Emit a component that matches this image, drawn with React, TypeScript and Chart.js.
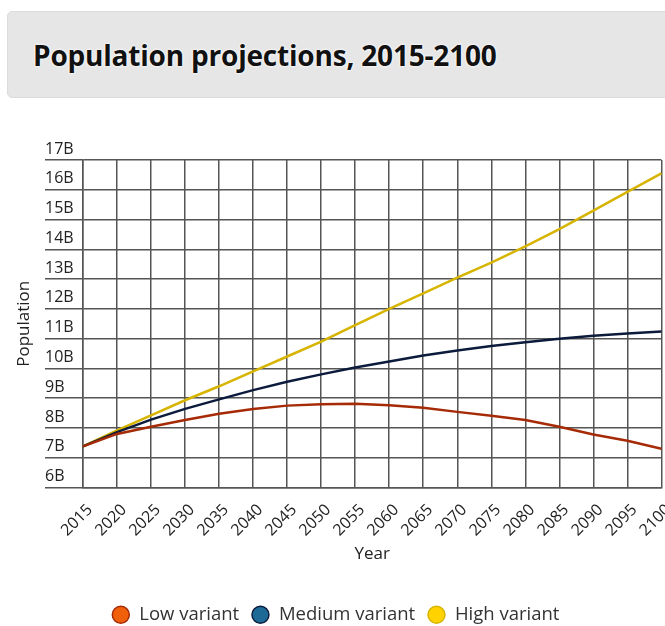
import React, { useEffect, useRef } from "react";
import { Chart, registerables } from "chart.js";

Chart.register(...registerables);

const years = ["2015", "2020", "2025", "2030", "2035", "2040", "2045", "2050", "2055", "2060", "2065", "2070", "2075", "2080", "2085", "2090", "2095", "2100"];
const lowVariant = [7.38, 7.8, 8.04, 8.27, 8.48, 8.64, 8.75, 8.8, 8.81, 8.76, 8.68, 8.54, 8.41, 8.27, 8.04, 7.78, 7.57, 7.3];
const mediumVariant = [7.38, 7.86, 8.28, 8.64, 8.96, 9.27, 9.55, 9.8, 10.03, 10.23, 10.43, 10.6, 10.75, 10.88, 11.0, 11.1, 11.17, 11.24];
const highVariant = [7.38, 7.92, 8.42, 8.93, 9.4, 9.9, 10.4, 10.9, 11.45, 12.0, 12.52, 13.05, 13.55, 14.1, 14.68, 15.3, 15.93, 16.55];
const seriesNames = ["Low variant", "Medium variant", "High variant"];
const yMin = 6;
const yMax = 17;

const FONT = "'Open Sans', 'Noto Sans', sans-serif";
const W = 688;
const H = 508;

export default function App() {
  const ref = useRef<HTMLCanvasElement>(null);

  useEffect(() => {
    if (!ref.current) return;
    const chart = new Chart(ref.current, {
      type: "line",
      data: {
        labels: years,
        datasets: [
          { label: seriesNames[0], data: lowVariant, borderColor: "#a52a05", backgroundColor: "#f0600a", borderWidth: 2.5, pointRadius: 0, tension: 0 },
          { label: seriesNames[1], data: mediumVariant, borderColor: "#0c1b3c", backgroundColor: "#1d6a96", borderWidth: 2.5, pointRadius: 0, tension: 0 },
          { label: seriesNames[2], data: highVariant, borderColor: "#d6b400", backgroundColor: "#ffd200", borderWidth: 2.5, pointRadius: 0, tension: 0 },
        ],
      },
      options: {
        responsive: false,
        animation: false,
        devicePixelRatio: 1,
        layout: { padding: { top: 30, right: 17, left: 0, bottom: 4 } },
        plugins: {
          tooltip: { enabled: false },
          legend: {
            position: "bottom",
            labels: {
              usePointStyle: true,
              pointStyle: "circle",
              boxWidth: 19,
              boxHeight: 12,
              padding: 12,
              color: "#333",
              font: { family: FONT, size: 18.5 },
              generateLabels: (c: any) =>
                Chart.defaults.plugins.legend.labels.generateLabels(c).map((l: any) => ({ ...l, lineWidth: 1.5 })),
            },
          },
        },
        scales: {
          x: {
            type: "category",
            grid: { color: "#555", lineWidth: 1.5, drawTicks: false },
            border: { color: "#555", width: 1.5 },
            ticks: {
              minRotation: 45,
              maxRotation: 45,
              padding: 13,
              labelOffset: 7,
              color: "#222",
              font: { family: FONT, size: 16 },
            },
            title: {
              display: true,
              text: "Year",
              color: "#222",
              font: { family: FONT, size: 17 },
              padding: { top: 4, bottom: 29 },
            },
            afterFit: (s: any) => { s.height = 106; },
          },
          y: {
            type: "linear",
            min: yMin,
            max: yMax,
            weight: 0,
            grid: { color: "#555", lineWidth: 1.5, tickLength: 38 },
            border: { color: "#555", width: 1.5 },
            ticks: {
              stepSize: 1,
              crossAlign: "far",
              labelOffset: -11,
              color: "#222",
              font: { family: FONT, size: 16 },
              callback: (v: any) => v + "B",
            },
            afterFit: (s: any) => { s.width = 38; },
          },
          yTitle: {
            type: "linear",
            position: "left",
            weight: 1,
            display: true,
            grid: { display: false },
            border: { display: false },
            ticks: { display: false },
            title: {
              display: true,
              text: "Population",
              color: "#222",
              font: { family: FONT, size: 17 },
              padding: { top: 14, bottom: 0 },
            },
            afterFit: (s: any) => { s.width = 45; },
          },
        },
      },
    });
    return () => chart.destroy();
  }, []);

  return (
    <div style={{ position: "fixed", left: 0, top: 0, width: 665, height: 626, overflow: "hidden", background: "#fff" }}>
      <div
        style={{
          position: "absolute",
          left: 7,
          top: 11,
          width: 700,
          height: 87,
          background: "#e6e6e6",
          borderRadius: 5,
          border: "1px solid #dcdcdc",
          boxSizing: "border-box",
          display: "flex",
          alignItems: "center",
          paddingLeft: 25,
        }}
      >
        <span
          style={{
            fontFamily: FONT,
            fontWeight: 700,
            fontSize: 28,
            letterSpacing: -0.2,
            color: "#111",
            textShadow: "0 0 3px #fff, 0 0 2px #fff",
          }}
        >
          Population projections, 2015-2100
        </span>
      </div>
      <div style={{ position: "absolute", left: 0, top: 130, width: W, height: H }}>
        <canvas ref={ref} width={W} height={H} style={{ width: W, height: H, display: "block" }} />
      </div>
    </div>
  );
}
